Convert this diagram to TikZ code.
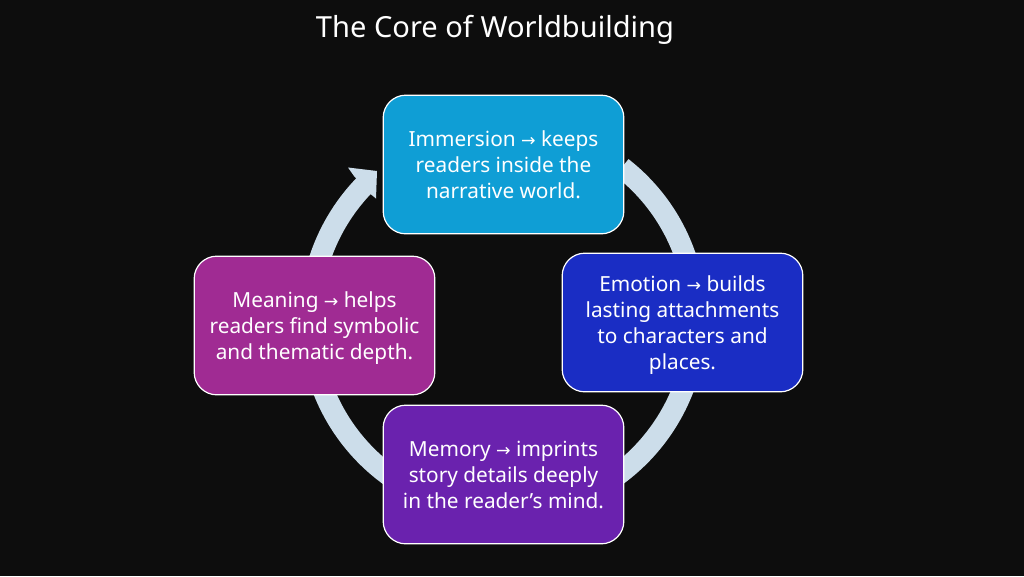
\documentclass[tikz,border=0pt]{standalone}
\usepackage{fontspec}
\usetikzlibrary{calc}
\setmainfont{Noto Sans}
\newfontfamily\arrowfont{DejaVu Sans}
\newcommand{\arr}{{\arrowfont\fontsize{13pt}{19.5pt}\selectfont →}}
\newcommand{\sttop}{\rule{0pt}{16pt}}
\newcommand{\stbot}{\rule[-4pt]{0pt}{4pt}}
\definecolor{bgc}{HTML}{0D0D0D}
\definecolor{ringc}{HTML}{CCDDEA}
\definecolor{skyc}{HTML}{0F9ED5}
\definecolor{bluec}{HTML}{1A2DC4}
\definecolor{purplec}{HTML}{6A22AE}
\definecolor{magentac}{HTML}{A02B93}
\tikzset{
  cyclebox/.style={draw=white, line width=0.9pt, rounded corners=17pt, minimum width=180.5pt, minimum height=104pt, inner sep=0pt, align=center, text=white, font=\fontsize{15.6pt}{19.5pt}\selectfont},
  titletext/.style={text=white, inner sep=0pt, font=\fontsize{21.8pt}{28pt}\selectfont}
}
\begin{document}
\begin{tikzpicture}[x=0.75pt,y=-0.75pt]
\useasboundingbox (0,0) rectangle (1024,576);
\fill[bgc] (0,0) rectangle (1024,576);
\coordinate (ctr) at (503,319.5);
% ring: angles run clockwise on screen because the y axis points down
\draw[ringc, line width=16pt] ($(ctr)+(-52:193)$) arc[start angle=-52,end angle=224,radius=193];
\fill[ringc] (348,167.5) -- (377,171) -- (376,198.5) -- (368,192) -- (354,176) -- cycle;
\node[titletext] (title) at (495,29.5) {The Core of Worldbuilding};
\node[cyclebox, fill=skyc] (imm) at (503.5,164.5) {\sttop Immersion \arr{} keeps\\readers inside the\\narrative world.\stbot};
\node[cyclebox, fill=bluec] (emo) at (682.5,322.5) {\sttop Emotion \arr{} builds\\lasting attachments\\to characters and\\places.\stbot};
\node[cyclebox, fill=purplec] (mem) at (503.5,474.5) {\sttop Memory \arr{} imprints\\story details deeply\\in the reader’s mind.\stbot};
\node[cyclebox, fill=magentac] (mea) at (314.5,325.5) {\sttop Meaning \arr{} helps\\readers find symbolic\\and thematic depth.\stbot};
\end{tikzpicture}
\end{document}
